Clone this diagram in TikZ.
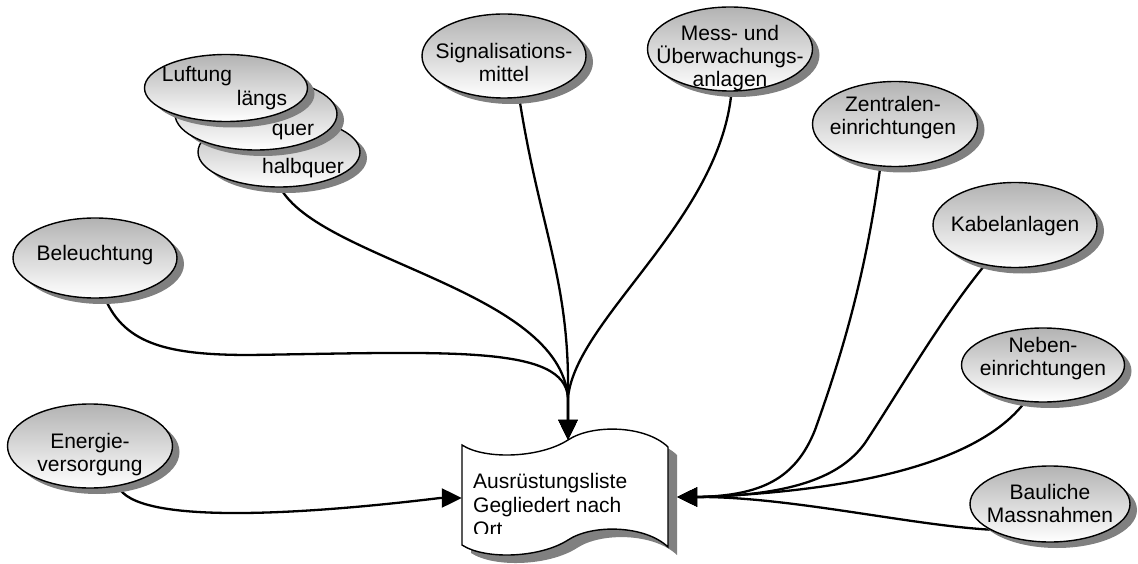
\documentclass[tikz,border=0pt]{standalone}
\usepackage{fontspec}
\setmainfont{Liberation Sans}
\usetikzlibrary{shapes.geometric,shadows,arrows.meta}
\pgfdeclarelayer{background}
\pgfsetlayers{background,main}
\begin{document}
\begin{tikzpicture}[x=1pt,y=-1pt,
  every node/.style={font=\fontsize{21}{23}\selectfont},
  bubble/.style={ellipse, draw=black, line width=1.4pt, top color=black!30, bottom color=white,
    inner sep=0pt, drop shadow={shadow xshift=7pt, shadow yshift=-6pt, fill=black!50, opacity=1}},
  lbl/.style={inner sep=0pt, align=center},
  link/.style={line width=2.3pt, -{Triangle[length=20pt,width=19pt]}}
]
\useasboundingbox (0,0) rectangle (1138,564);

% Luftung stack
\node[bubble, minimum width=162pt, minimum height=70pt] (halb) at (279,152) {};
\node[bubble, minimum width=162pt, minimum height=72pt] (quer) at (256,114) {};
\node[bubble, minimum width=163pt, minimum height=67pt] (luft) at (226,88) {};
\node[lbl] (luftT) at (197,76) {Luftung};
\node[lbl] (laengsT) at (262,100) {längs};
\node[lbl] (querT) at (293,132) {quer};
\node[lbl] (halbT) at (303,168) {halbquer};

% single bubbles
\node[bubble, minimum width=164pt, minimum height=80pt] (bel) at (95,258) {};
\node[lbl] (belT) at (95,255) {Beleuchtung};
\node[bubble, minimum width=165pt, minimum height=84pt] (ene) at (90,446) {};
\node[lbl] (eneT) at (90,455) {Energie-\\versorgung};
\node[bubble, minimum width=164pt, minimum height=84pt] (sig) at (504,56) {};
\node[lbl] (sigT) at (504,62) {Signalisations-\\mittel};
\node[bubble, minimum width=165pt, minimum height=84pt] (mess) at (730,49) {};
\node[lbl] (messT) at (730,58) {Mess- und\\Überwachungs-\\anlagen};
\node[bubble, minimum width=165pt, minimum height=85pt] (zen) at (895,124) {};
\node[lbl] (zenT) at (893,118) {Zentralen-\\einrichtungen};
\node[bubble, minimum width=164pt, minimum height=85pt] (kab) at (1015,225) {};
\node[lbl] (kabT) at (1015,226) {Kabelanlagen};
\node[bubble, minimum width=163pt, minimum height=74pt] (neb) at (1043,365) {};
\node[lbl] (nebT) at (1043,359) {Neben-\\einrichtungen};
\node[bubble, minimum width=160pt, minimum height=76pt] (bau) at (1050,504) {};
\node[lbl] (bauT) at (1050,503) {Bauliche\\Massnahmen};

% document shape
\node[minimum width=206pt, minimum height=116pt, inner sep=0pt] (doc) at (565,498) {};
\fill[black!50, shift={(9,8)}]
  (462,445) .. controls (485,460) and (540,458) .. (568,440)
  .. controls (592,424) and (645,425) .. (668,447) -- (668,547)
  .. controls (645,525) and (592,524) .. (568,540)
  .. controls (540,558) and (485,560) .. (462,545) -- cycle;
\filldraw[fill=white, draw=black, line width=1.4pt]
  (462,445) .. controls (485,460) and (540,458) .. (568,440)
  .. controls (592,424) and (645,425) .. (668,447) -- (668,547)
  .. controls (645,525) and (592,524) .. (568,540)
  .. controls (540,558) and (485,560) .. (462,545) -- cycle;
\begin{scope}
  \clip (462,430) rectangle (668,533);
  \node[inner sep=0pt, anchor=base west] (docA) at (473,488) {Ausrüstungsliste};
  \node[inner sep=0pt, anchor=base west] (docB) at (473,512) {Gegliedert nach};
  \node[inner sep=0pt, anchor=base west] (docC) at (473,536) {Ort};
\end{scope}

% connectors
\begin{pgfonlayer}{background}
  \draw[link] (halb.272) .. controls (320,260) and (560,290) .. (568,398) -- ([xshift=3pt]doc.north);
  \draw[link] (bel.284) .. controls (125,345) and (170,355) .. (250,355)
    .. controls (450,352) and (565,345) .. (568,398) -- ([xshift=3pt]doc.north);
  \draw[link] (sig.290) .. controls (540,230) and (570,280) .. (568,398) -- ([xshift=3pt]doc.north);
  \draw[link] (mess.272) .. controls (720,220) and (575,320) .. (568,398) -- ([xshift=3pt]doc.north);
  \draw[link] (ene.305) .. controls (135,525) and (300,515) .. (440,498) -- (doc.west);
  \draw[link] (zen.251) .. controls (865,280) and (840,360) .. (815,430)
    .. controls (795,480) and (760,495) .. (700,497) -- ([xshift=9pt,yshift=1pt]doc.east);
  \draw[link] (kab.233) .. controls (940,320) and (900,390) .. (865,443)
    .. controls (840,478) and (790,495) .. (700,497) -- ([xshift=9pt,yshift=1pt]doc.east);
  \draw[link] (neb.244) .. controls (985,455) and (880,490) .. (700,497) -- ([xshift=9pt,yshift=1pt]doc.east);
  \draw[link] (bau.203) .. controls (910,525) and (790,497) .. (700,497) -- ([xshift=9pt,yshift=1pt]doc.east);
\end{pgfonlayer}
\end{tikzpicture}
\end{document}
